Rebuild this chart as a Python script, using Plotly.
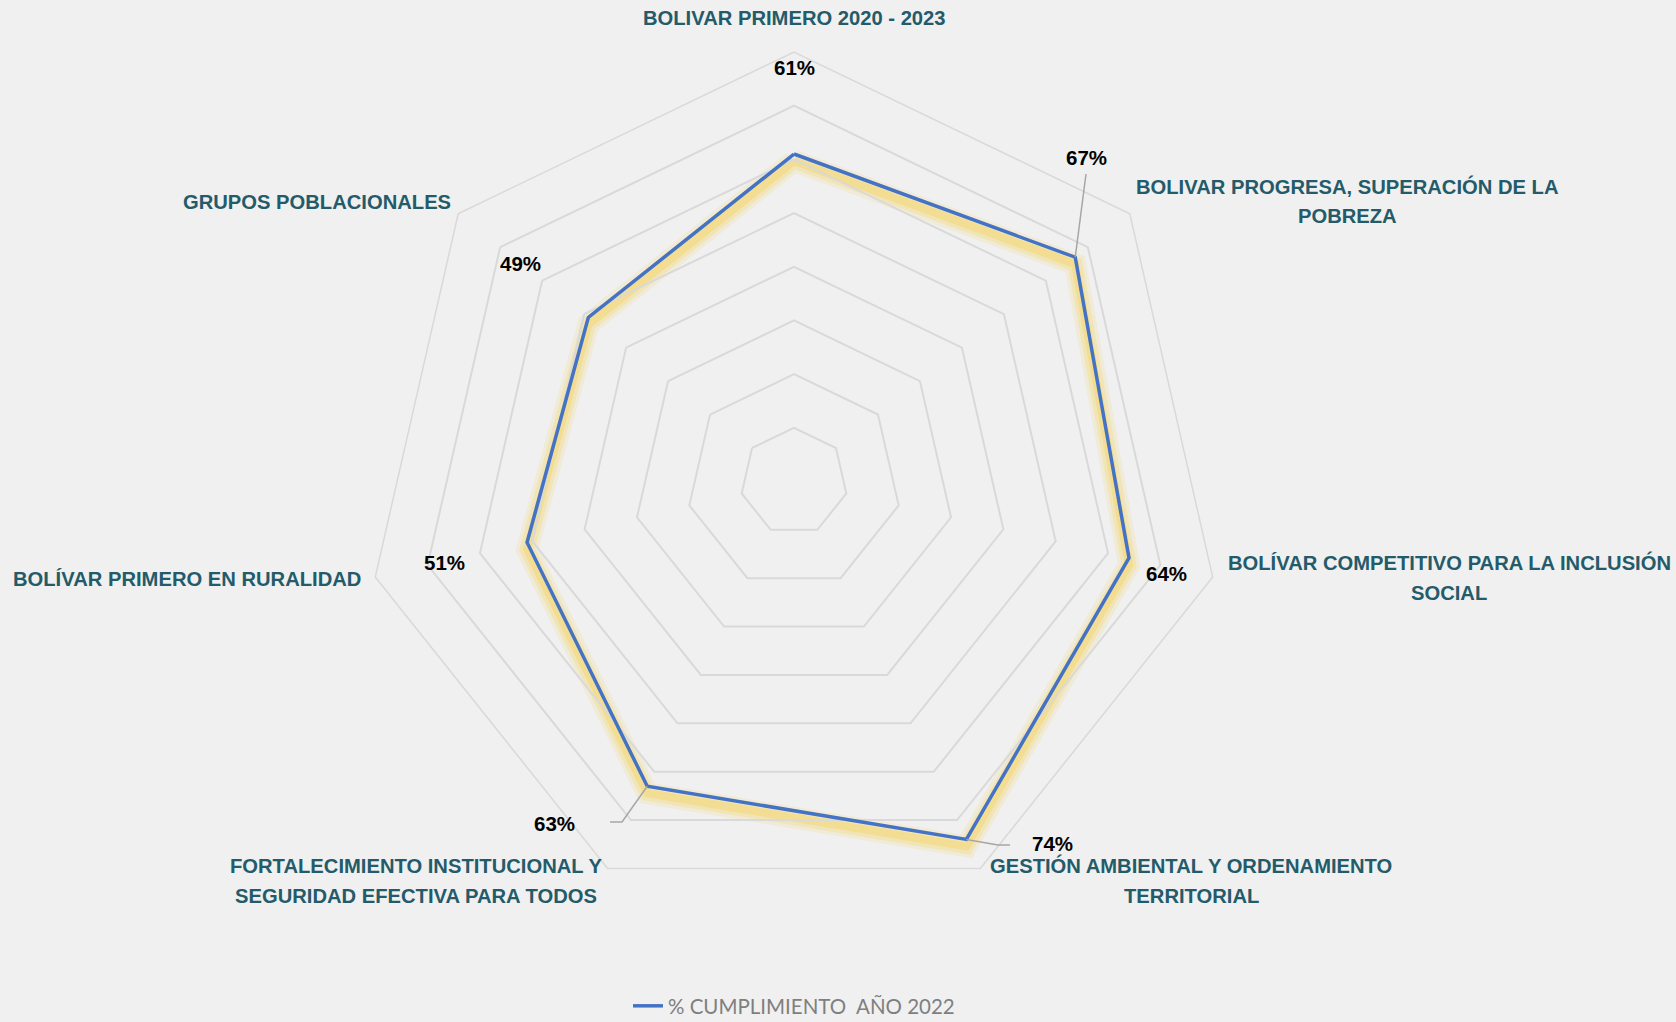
import math
import plotly.graph_objects as go

# ---------------- data ----------------
categories = [
    "BOLIVAR PRIMERO 2020 - 2023",
    "BOLIVAR PROGRESA, SUPERACIÓN DE LA\nPOBREZA",
    "BOLÍVAR COMPETITIVO PARA LA INCLUSIÓN\nSOCIAL",
    "GESTIÓN AMBIENTAL Y ORDENAMIENTO\nTERRITORIAL",
    "FORTALECIMIENTO INSTITUCIONAL Y\nSEGURIDAD EFECTIVA PARA TODOS",
    "BOLÍVAR PRIMERO EN RURALIDAD",
    "GRUPOS POBLACIONALES",
]
values = [0.61, 0.67, 0.64, 0.74, 0.63, 0.51, 0.49]
series_name = "% CUMPLIMIENTO  AÑO 2022"
r_max = 0.8
r_step = 0.1

# ---------------- style / layout ----------------
FIG_W, FIG_H = 1676, 1022
ML, MR, MT, MB = 0, 88, 52, 104
PW, PH = FIG_W - ML - MR, FIG_H - MT - MB
SHIFT = 7  # px, downward offset of the glow
DOM_H = PH - SHIFT
CX = ML + PW / 2
CY = MT + DOM_H / 2
RPX = DOM_H / 2

BG = "#F0F0F0"
GRID = "#D9D9D9"
BLUE = "#4472C4"
TEAL = "#245B6A"
FONT_B = "Liberation Sans, Arial, sans-serif"

# label centres relative to polar centre (px)
cat_label_pos = [(0, -464), (553, -280), (655, 96), (397, 399), (-378, 399), (-607, 97), (-477, -280)]
pct_label_pos = [(0, -414), (292, -324), (372, 92), (258, 362), (-240, 342), (-350, 81), (-274, -218)]
LINE_GAP = 30
LEGEND_CY = 1006

n = len(categories)
cat_plain = [c.replace("\n", " ") for c in categories]
theta = cat_plain + [cat_plain[0]]
r_closed = values + [values[0]]


def to_paper(px, py):
    return (px - ML) / PW, (FIG_H - MB - py) / PH


def data_px(i, v):
    a = math.radians(i * 360 / n)
    rp = v / r_max * RPX
    return CX + rp * math.sin(a), CY - rp * math.cos(a)


fig = go.Figure()

# glow (shifted polar)
for w, col in [(22, "rgba(245,215,110,0.18)"), (15, "rgba(245,215,110,0.3)"), (8, "rgba(243,210,100,0.45)")]:
    fig.add_trace(go.Scatterpolar(r=r_closed, theta=theta, mode="lines", subplot="polar",
                                  line=dict(color=col, width=w), showlegend=False, hoverinfo="skip"))

fig.add_trace(go.Scatterpolar(r=r_closed, theta=theta, mode="lines", subplot="polar2",
                              name=series_name, line=dict(color=BLUE, width=3.5), showlegend=True))

common_radial = dict(range=[0, r_max], dtick=r_step, showticklabels=False, ticks="",
                     showline=False)
common_ang = dict(type="category", categoryarray=cat_plain, rotation=90, direction="clockwise",
                  showticklabels=False, ticks="", showgrid=False)

fig.update_layout(
    width=FIG_W, height=FIG_H,
    paper_bgcolor=BG, plot_bgcolor=BG,
    margin=dict(l=ML, r=MR, t=MT, b=MB, autoexpand=False),
    polar=dict(domain=dict(x=[0, 1], y=[0, DOM_H / PH]), gridshape="linear", bgcolor="rgba(0,0,0,0)",
               radialaxis=dict(common_radial, showgrid=False),
               angularaxis=dict(common_ang, showline=False)),
    polar2=dict(domain=dict(x=[0, 1], y=[SHIFT / PH, 1]), gridshape="linear", bgcolor="rgba(0,0,0,0)",
                radialaxis=dict(common_radial, showgrid=True, gridcolor=GRID, gridwidth=1.5),
                angularaxis=dict(common_ang, showline=True, linecolor=GRID, linewidth=1.5)),
    showlegend=True,
    legend=dict(orientation="h", x=0.5, xanchor="center", yref="paper",
                y=-(LEGEND_CY - (FIG_H - MB)) / PH, yanchor="middle",
                font=dict(family="Lato, Liberation Sans, sans-serif", size=20.5, color="#7F7F7F"),
                bgcolor="rgba(0,0,0,0)"),
)

annotations = []
for i, c in enumerate(categories):
    lines = c.split("\n")
    dx, dy = cat_label_pos[i]
    k = len(lines)
    for j, ln in enumerate(lines):
        py = CY + dy + (j - (k - 1) / 2) * LINE_GAP
        x, y = to_paper(CX + dx, py)
        annotations.append(dict(x=x, y=y, xref="paper", yref="paper", text=ln, showarrow=False,
                                xanchor="center", yanchor="middle",
                                font=dict(family=FONT_B, size=20.2, color=TEAL, weight="bold")))
for i, v in enumerate(values):
    dx, dy = pct_label_pos[i]
    x, y = to_paper(CX + dx, CY + dy)
    annotations.append(dict(x=x, y=y, xref="paper", yref="paper", text=f"{round(v * 100)}%",
                            showarrow=False, xanchor="center", yanchor="middle",
                            font=dict(family=FONT_B, size=20.5, color="#000000", weight="bold")))
fig.update_layout(annotations=annotations)

# leader lines from labels to their points
leaders = {1: [(1086, 174)], 4: [(610, 822), (622, 822)], 3: [(1010, 845), (998, 845)]}
shapes = []
for i, pts in leaders.items():
    px, py = data_px(i, values[i])
    allp = pts + [(px, py)]
    path = ""
    for k, (a, b) in enumerate(allp):
        xp, yp = to_paper(a, b)
        path += ("M" if k == 0 else " L") + f" {xp} {yp}"
    shapes.append(dict(type="path", path=path, xref="paper", yref="paper",
                       line=dict(color="#A6A6A6", width=1.5)))
fig.update_layout(shapes=shapes)

fig.write_html("out.html", config={"displayModeBar": False},
               post_script="document.body.style.margin='0';document.body.style.background='#F0F0F0';")
